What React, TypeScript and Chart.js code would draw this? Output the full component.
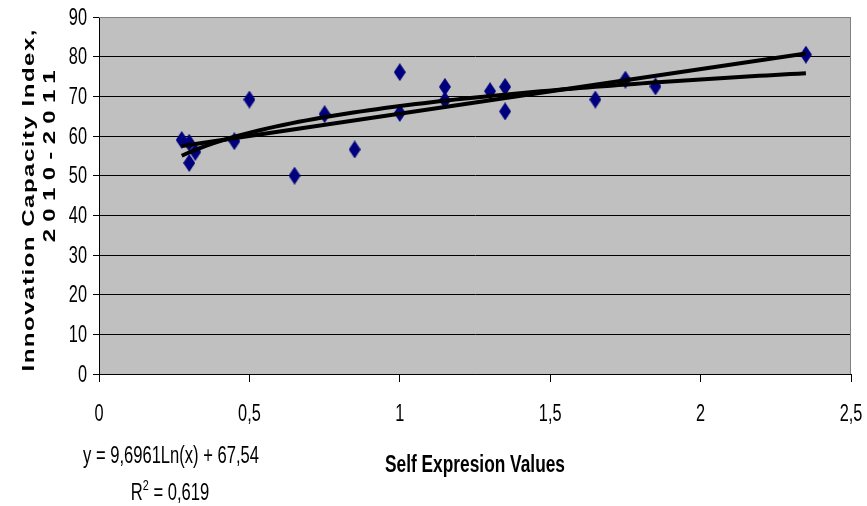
import React, { useEffect, useRef } from "react";
import { Chart, registerables } from "chart.js";

Chart.register(...registerables);

// ---- Data ----
const selfExpression = [0.275, 0.3, 0.32, 0.3, 0.45, 0.5, 0.65, 0.75, 0.85, 1.0, 1.0, 1.15, 1.15, 1.3, 1.35, 1.35, 1.65, 1.75, 1.85, 2.35];
const innovationIndex = [59.0, 58.3, 56.0, 53.2, 58.7, 69.2, 50.0, 65.5, 56.6, 76.1, 65.8, 72.4, 69.0, 71.3, 72.4, 66.2, 69.2, 74.2, 72.5, 80.5];
const logCoefA = 9.6961;
const logCoefB = 67.54;
const equationText = "y = 9,6961Ln(x) + 67,54";
const r2Prefix = "R";
const r2Sup = "2";
const r2Rest = " = 0,619";
const yTitleLines = ["Innovation Capacity Index,", "2010-2011"];
const xTitle = "Self Expresion Values";
const xMin = 0, xMax = 2.5, xStep = 0.5;
const yMin = 0, yMax = 90, yStep = 10;

const SANS = '"Liberation Sans", Arial, sans-serif';

function makeDiamond(): HTMLCanvasElement {
  const c = document.createElement("canvas");
  c.width = 12;
  c.height = 18;
  const g = c.getContext("2d")!;
  g.fillStyle = "#00007f";
  g.beginPath();
  g.moveTo(6, 0);
  g.lineTo(12, 9);
  g.lineTo(6, 18);
  g.lineTo(0, 9);
  g.closePath();
  g.fill();
  return c;
}

function drawScaled(
  ctx: CanvasRenderingContext2D,
  text: string,
  x: number,
  y: number,
  font: string,
  sx: number,
  align: CanvasTextAlign
) {
  ctx.save();
  ctx.font = font;
  ctx.textBaseline = "middle";
  ctx.textAlign = align;
  ctx.translate(x, y);
  ctx.scale(sx, 1);
  ctx.fillText(text, 0, 0);
  ctx.restore();
}

function fitScale(ctx: CanvasRenderingContext2D, text: string, font: string, target: number) {
  ctx.save();
  ctx.font = font;
  const w = ctx.measureText(text).width;
  ctx.restore();
  return target / w;
}

export default function App() {
  const ref = useRef<HTMLCanvasElement | null>(null);

  useEffect(() => {
    if (!ref.current) return;
    const pts = selfExpression.map((x, i) => ({ x, y: innovationIndex[i] }));
    const minX = Math.min(...selfExpression);
    const maxX = Math.max(...selfExpression);

    // linear least squares trendline
    const n = pts.length;
    const mx = selfExpression.reduce((a, b) => a + b, 0) / n;
    const my = innovationIndex.reduce((a, b) => a + b, 0) / n;
    let sxy = 0, sxx = 0;
    pts.forEach((p) => {
      sxy += (p.x - mx) * (p.y - my);
      sxx += (p.x - mx) * (p.x - mx);
    });
    const slope = sxy / sxx;
    const icpt = my - slope * mx;
    const linPts = [
      { x: minX, y: icpt + slope * minX },
      { x: maxX, y: icpt + slope * maxX },
    ];
    // logarithmic trendline from the displayed equation
    const logPts: { x: number; y: number }[] = [];
    const steps = 80;
    for (let i = 0; i <= steps; i++) {
      const x = minX + ((maxX - minX) * i) / steps;
      logPts.push({ x, y: logCoefA * Math.log(x) + logCoefB });
    }

    const TICK_FONT = `24px ${SANS}`;
    const TICK_SX = 0.68;

    const decorPlugin = {
      id: "decor",
      beforeDraw(chart: any) {
        const { ctx, chartArea: a } = chart;
        ctx.save();
        ctx.fillStyle = "#c0c0c0";
        ctx.fillRect(a.left, a.top, a.right - a.left, a.bottom - a.top);
        ctx.restore();
      },
      afterDraw(chart: any) {
        const { ctx, chartArea: a } = chart;
        ctx.save();
        // top and right border
        ctx.strokeStyle = "#808080";
        ctx.lineWidth = 1;
        ctx.beginPath();
        ctx.moveTo(a.left, a.top + 0.5);
        ctx.lineTo(a.right - 0.5, a.top + 0.5);
        ctx.lineTo(a.right - 0.5, a.bottom);
        ctx.stroke();
        ctx.fillStyle = "#000";

        // tick labels (narrow look)
        const ys = chart.scales.y;
        ys.ticks.forEach((t: any) => {
          drawScaled(ctx, String(t.value), a.left - 12, ys.getPixelForValue(t.value) + 1, TICK_FONT, TICK_SX, "right");
        });
        const xs = chart.scales.x;
        xs.ticks.forEach((t: any) => {
          const lbl = String(t.value).replace(".", ",");
          drawScaled(ctx, lbl, xs.getPixelForValue(t.value), 414, TICK_FONT, TICK_SX, "center");
        });

        // y title
        const targets = [
          { cx: 29, cy: 199, len: 342 },
          { cx: 50, cy: 149, len: 172 },
        ];
        const tFont = `bold 24px ${SANS}`;
        yTitleLines.forEach((t, i) => {
          const tg = targets[i];
          ctx.save();
          ctx.font = tFont;
          (ctx as any).letterSpacing = "0px";
          const w = ctx.measureText(t).width;
          const sp = Math.max(0, (tg.len - w) / (t.length - 1));
          (ctx as any).letterSpacing = `${sp}px`;
          ctx.translate(tg.cx, tg.cy + sp / 2);
          ctx.rotate(-Math.PI / 2);
          ctx.scale(1, 0.7);
          ctx.textAlign = "center";
          ctx.textBaseline = "middle";
          ctx.fillText(t, 0, 0);
          ctx.restore();
        });
        (ctx as any).letterSpacing = "0px";

        // x title
        const xtFont = `bold 23px ${SANS}`;
        drawScaled(ctx, xTitle, 475, 466, xtFont, fitScale(ctx, xTitle, xtFont, 180), "center");

        // equation
        const eqFont = `23px ${SANS}`;
        const eqSx = fitScale(ctx, equationText, eqFont, 176);
        drawScaled(ctx, equationText, 171, 457, eqFont, eqSx, "center");

        // R^2
        const supFont = `15px ${SANS}`;
        ctx.font = eqFont;
        const wR = ctx.measureText(r2Prefix).width * eqSx;
        const wRest = ctx.measureText(r2Rest).width * eqSx;
        ctx.font = supFont;
        const wS = ctx.measureText(r2Sup).width * eqSx;
        const total = wR + wS + wRest;
        const x0 = 170 - total / 2;
        drawScaled(ctx, r2Prefix, x0, 494, eqFont, eqSx, "left");
        drawScaled(ctx, r2Sup, x0 + wR, 486, supFont, eqSx, "left");
        drawScaled(ctx, r2Rest, x0 + wR + wS, 494, eqFont, eqSx, "left");
        ctx.restore();
      },
    };

    const chart = new Chart(ref.current, {
      type: "scatter",
      data: {
        datasets: [
          {
            label: "Data",
            data: pts,
            pointStyle: makeDiamond() as any,
            pointRadius: 6,
            order: 3,
          },
          {
            label: "Linear",
            data: linPts,
            showLine: true,
            borderColor: "#000",
            borderWidth: 4,
            pointRadius: 0,
            order: 1,
          } as any,
          {
            label: "Log",
            data: logPts,
            showLine: true,
            borderColor: "#000",
            borderWidth: 4,
            pointRadius: 0,
            tension: 0,
            order: 2,
          } as any,
        ],
      },
      options: {
        responsive: false,
        animation: false,
        events: [],
        layout: { padding: { top: 17, right: 16, left: 0, bottom: 0 } },
        plugins: {
          legend: { display: false },
          tooltip: { enabled: false },
          title: { display: false },
        },
        scales: {
          x: {
            type: "linear",
            min: xMin,
            max: xMax,
            ticks: { stepSize: xStep, display: false },
            grid: {
              drawOnChartArea: false,
              drawTicks: true,
              tickLength: 8,
              color: "#000",
            },
            border: { display: true, color: "#000", width: 1 },
            afterFit: (s: any) => {
              s.height = 132;
            },
          },
          y: {
            type: "linear",
            min: yMin,
            max: yMax,
            ticks: { stepSize: yStep, display: false },
            grid: {
              color: (c: any) => (c.tick && c.tick.value === yMax ? "#808080" : "#000"),
              tickColor: "#000",
              tickLength: 6,
              lineWidth: 1,
            },
            border: { display: true, color: "#000", width: 1 },
            afterFit: (s: any) => {
              s.width = 99;
            },
          },
        },
      },
      plugins: [decorPlugin],
    } as any);
    return () => chart.destroy();
  }, []);

  return (
    <div style={{ position: "fixed", left: 0, top: 0, width: 867, height: 506, background: "#fff" }}>
      <canvas ref={ref} width={867} height={506} style={{ display: "block" }} />
    </div>
  );
}
